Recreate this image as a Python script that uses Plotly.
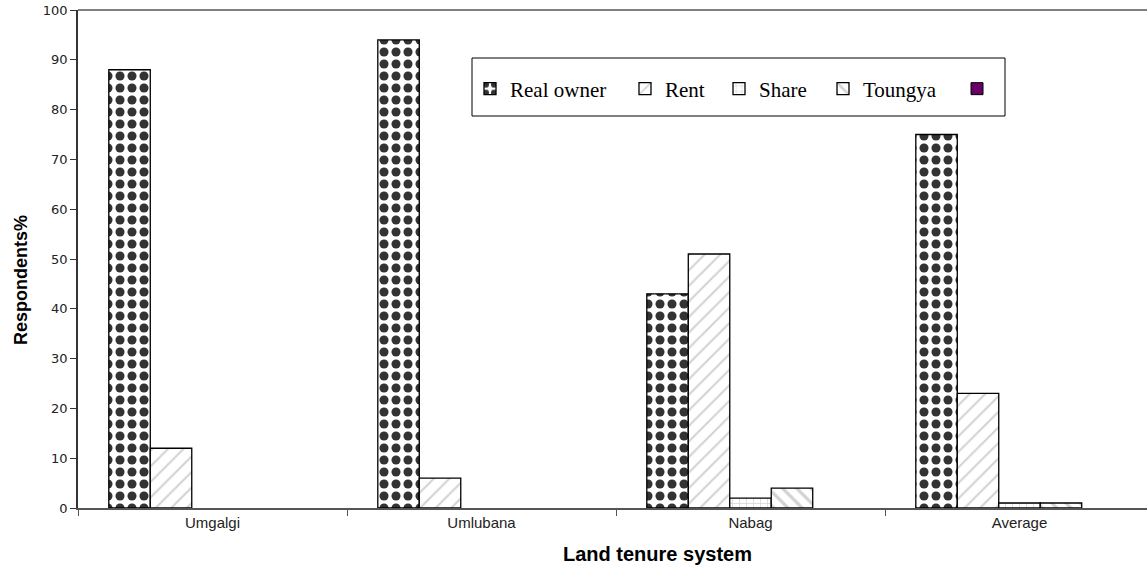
import plotly.graph_objects as go

categories = ["Umgalgi", "Umlubana", "Nabag", "Average"]
real_owner = [88, 94, 43, 75]
rent = [12, 6, 51, 23]
share = [0, 0, 2, 1]
toungya = [0, 0, 4, 1]
other = [0, 0, 0, 0]
series_names = ["Real owner", "Rent", "Share", "Toungya", " "]

L, R_EDGE, TOP, BOT = 78, 1147, 10, 508
PW, PH = R_EDGE - L, BOT - TOP


def px_x(px):
    return (px - L) / PW


def px_y(py):
    return (BOT - py) / PH


patterns = [
    dict(shape=".", fgcolor="#333333", bgcolor="white", size=12, solidity=0.45, fgopacity=1),
    dict(shape="/", fgcolor="#a8a8a8", bgcolor="white", size=11, solidity=0.2),
    dict(shape="+", fgcolor="#a8a8a8", bgcolor="white", size=7, solidity=0.2),
    dict(shape="\\", fgcolor="#a8a8a8", bgcolor="white", size=10, solidity=0.32),
    None,
]
values = [real_owner, rent, share, toungya, other]
legend_x_px = [470, 625, 719, 823, 957]
legend_ids = ["legend", "legend2", "legend3", "legend4", "legend5"]

fig = go.Figure()
for i, (name, vals, pat) in enumerate(zip(series_names, values, patterns)):
    if pat is None:
        marker = dict(color="#660066", line=dict(color="black", width=1))
    else:
        marker = dict(color="white", pattern=pat, line=dict(color="black", width=1.3))
    fig.add_trace(go.Bar(
        x=categories, y=[v if v else None for v in vals], name=name,
        marker=marker, legend=legend_ids[i], showlegend=True,
    ))

legend_font = dict(family="Liberation Serif, Times New Roman", size=21, color="black")
legend_layout = {}
for lid, lx in zip(legend_ids, legend_x_px):
    legend_layout[lid] = dict(
        x=px_x(lx), xanchor="left", y=px_y(89), yanchor="middle",
        bgcolor="rgba(0,0,0,0)", borderwidth=0, font=legend_font,
        orientation="h", itemwidth=30,
    )

fig.update_layout(
    width=1147, height=569,
    margin=dict(l=L, r=0, t=TOP, b=569 - BOT),
    paper_bgcolor="white", plot_bgcolor="white",
    barmode="group", bargap=0.229, bargroupgap=0,
    font=dict(family="Liberation Sans, Arial", size=13, color="#222222"),
    showlegend=True,
    shapes=[
        dict(type="rect", xref="paper", yref="paper",
             x0=px_x(472), x1=px_x(1005), y0=px_y(116), y1=px_y(58),
             line=dict(color="black", width=1), fillcolor="white", layer="below"),
        dict(type="line", xref="paper", yref="paper", x0=0, x1=1, y0=1, y1=1,
             line=dict(color="#808080", width=2)),
    ],
    annotations=[
        dict(text="<b>Land tenure system</b>", xref="paper", yref="paper",
             x=px_x(657), y=px_y(554), xanchor="center", yanchor="middle",
             showarrow=False, font=dict(size=20, color="black", family="Liberation Sans, Arial")),
        dict(text="<b>Respondents%</b>", xref="paper", yref="paper",
             x=px_x(21), y=px_y(280), xanchor="center", yanchor="middle", textangle=-90,
             showarrow=False, font=dict(size=18, color="black", family="Liberation Sans, Arial")),
    ],
    **legend_layout,
)
fig.update_xaxes(
    range=[-0.5, 3.474], showline=True, linecolor="#555555", linewidth=1.5,
    ticks="outside", tickson="boundaries", ticklen=6, tickcolor="#555555",
    tickfont=dict(size=15, family="Liberation Sans, Arial", color="#222222"),
    showgrid=False, automargin=False,
)
fig.update_yaxes(
    range=[0, 100], dtick=10, showline=True, linecolor="#333333", linewidth=1.5,
    ticks="outside", ticklen=6, tickcolor="#333333",
    tickfont=dict(size=13, family="DejaVu Sans, Liberation Sans", color="#222222"),
    showgrid=False, zeroline=False, automargin=False,
)

fig.write_html(
    "out.html",
    config={"displayModeBar": False},
    post_script="document.body.style.margin='0';document.body.style.overflow='hidden';",
)
